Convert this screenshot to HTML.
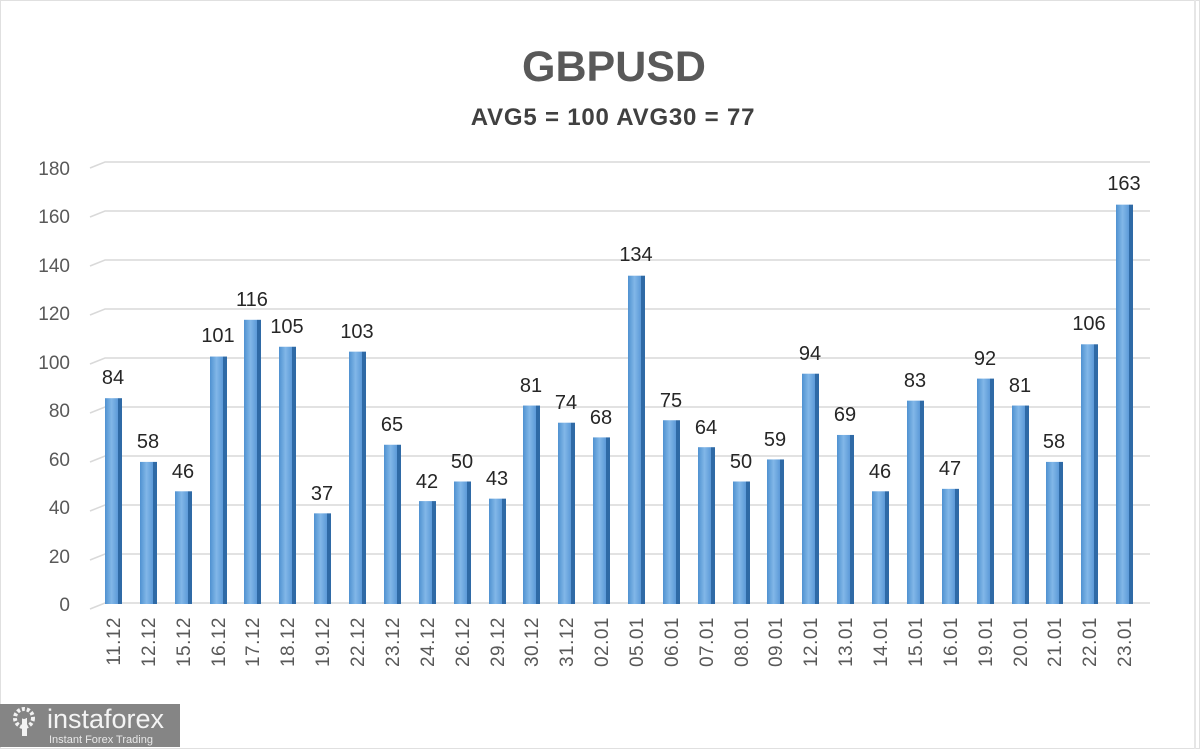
<!DOCTYPE html>
<html><head><meta charset="utf-8"><style>
html,body{margin:0;padding:0;background:#fff}
svg{display:block;font-family:"Liberation Sans",sans-serif}
</style></head><body>
<svg width="1200" height="749" viewBox="0 0 1200 749" xmlns="http://www.w3.org/2000/svg">
<defs>
<linearGradient id="bf" x1="0" x2="1" y1="0" y2="0"><stop offset="0" stop-color="#4f91d0"/><stop offset="0.5" stop-color="#82b7e8"/><stop offset="1" stop-color="#5c9ad8"/></linearGradient>
</defs>
<rect x="0.5" y="0.5" width="1199" height="748" fill="#fff" stroke="#e0e0e0"/>
<rect x="1194" y="0" width="2" height="749" fill="#e6e6e6"/>
<text x="614" y="81" font-size="43" font-weight="bold" fill="#595959" text-anchor="middle">GBPUSD</text>
<text x="613" y="125" font-size="24" font-weight="bold" fill="#404040" text-anchor="middle" letter-spacing="0.8">AVG5 = 100 AVG30 = 77</text>
<g stroke="#d9d9d9" stroke-width="1.5" fill="none">
<path d="M90 609 L105 603 H1150"/>
<path d="M90 560 L105 554 H1150"/>
<path d="M90 511 L105 505 H1150"/>
<path d="M90 462 L105 456 H1150"/>
<path d="M90 413 L105 407 H1150"/>
<path d="M90 364 L105 358 H1150"/>
<path d="M90 315 L105 309 H1150"/>
<path d="M90 266 L105 260 H1150"/>
<path d="M90 217 L105 211 H1150"/>
<path d="M90 168 L105 162 H1150"/>
</g>
<g font-size="19" fill="#595959" text-anchor="end">
<text x="70" y="611">0</text><text x="70" y="563">20</text><text x="70" y="514">40</text><text x="70" y="466">60</text><text x="70" y="417">80</text><text x="70" y="369">100</text><text x="70" y="320">120</text><text x="70" y="272">140</text><text x="70" y="223">160</text><text x="70" y="175">180</text>
</g>
<g id="bars">
<g transform="translate(113,604) scale(1,-2.45)"><rect x="-8" y="0" width="13" height="84" fill="url(#bf)"/><rect x="5" y="0" width="4" height="84" fill="#2f6aa6"/></g>
<g transform="translate(148,604) scale(1,-2.45)"><rect x="-8" y="0" width="13" height="58" fill="url(#bf)"/><rect x="5" y="0" width="4" height="58" fill="#2f6aa6"/></g>
<g transform="translate(183,604) scale(1,-2.45)"><rect x="-8" y="0" width="13" height="46" fill="url(#bf)"/><rect x="5" y="0" width="4" height="46" fill="#2f6aa6"/></g>
<g transform="translate(218,604) scale(1,-2.45)"><rect x="-8" y="0" width="13" height="101" fill="url(#bf)"/><rect x="5" y="0" width="4" height="101" fill="#2f6aa6"/></g>
<g transform="translate(252,604) scale(1,-2.45)"><rect x="-8" y="0" width="13" height="116" fill="url(#bf)"/><rect x="5" y="0" width="4" height="116" fill="#2f6aa6"/></g>
<g transform="translate(287,604) scale(1,-2.45)"><rect x="-8" y="0" width="13" height="105" fill="url(#bf)"/><rect x="5" y="0" width="4" height="105" fill="#2f6aa6"/></g>
<g transform="translate(322,604) scale(1,-2.45)"><rect x="-8" y="0" width="13" height="37" fill="url(#bf)"/><rect x="5" y="0" width="4" height="37" fill="#2f6aa6"/></g>
<g transform="translate(357,604) scale(1,-2.45)"><rect x="-8" y="0" width="13" height="103" fill="url(#bf)"/><rect x="5" y="0" width="4" height="103" fill="#2f6aa6"/></g>
<g transform="translate(392,604) scale(1,-2.45)"><rect x="-8" y="0" width="13" height="65" fill="url(#bf)"/><rect x="5" y="0" width="4" height="65" fill="#2f6aa6"/></g>
<g transform="translate(427,604) scale(1,-2.45)"><rect x="-8" y="0" width="13" height="42" fill="url(#bf)"/><rect x="5" y="0" width="4" height="42" fill="#2f6aa6"/></g>
<g transform="translate(462,604) scale(1,-2.45)"><rect x="-8" y="0" width="13" height="50" fill="url(#bf)"/><rect x="5" y="0" width="4" height="50" fill="#2f6aa6"/></g>
<g transform="translate(497,604) scale(1,-2.45)"><rect x="-8" y="0" width="13" height="43" fill="url(#bf)"/><rect x="5" y="0" width="4" height="43" fill="#2f6aa6"/></g>
<g transform="translate(531,604) scale(1,-2.45)"><rect x="-8" y="0" width="13" height="81" fill="url(#bf)"/><rect x="5" y="0" width="4" height="81" fill="#2f6aa6"/></g>
<g transform="translate(566,604) scale(1,-2.45)"><rect x="-8" y="0" width="13" height="74" fill="url(#bf)"/><rect x="5" y="0" width="4" height="74" fill="#2f6aa6"/></g>
<g transform="translate(601,604) scale(1,-2.45)"><rect x="-8" y="0" width="13" height="68" fill="url(#bf)"/><rect x="5" y="0" width="4" height="68" fill="#2f6aa6"/></g>
<g transform="translate(636,604) scale(1,-2.45)"><rect x="-8" y="0" width="13" height="134" fill="url(#bf)"/><rect x="5" y="0" width="4" height="134" fill="#2f6aa6"/></g>
<g transform="translate(671,604) scale(1,-2.45)"><rect x="-8" y="0" width="13" height="75" fill="url(#bf)"/><rect x="5" y="0" width="4" height="75" fill="#2f6aa6"/></g>
<g transform="translate(706,604) scale(1,-2.45)"><rect x="-8" y="0" width="13" height="64" fill="url(#bf)"/><rect x="5" y="0" width="4" height="64" fill="#2f6aa6"/></g>
<g transform="translate(741,604) scale(1,-2.45)"><rect x="-8" y="0" width="13" height="50" fill="url(#bf)"/><rect x="5" y="0" width="4" height="50" fill="#2f6aa6"/></g>
<g transform="translate(775,604) scale(1,-2.45)"><rect x="-8" y="0" width="13" height="59" fill="url(#bf)"/><rect x="5" y="0" width="4" height="59" fill="#2f6aa6"/></g>
<g transform="translate(810,604) scale(1,-2.45)"><rect x="-8" y="0" width="13" height="94" fill="url(#bf)"/><rect x="5" y="0" width="4" height="94" fill="#2f6aa6"/></g>
<g transform="translate(845,604) scale(1,-2.45)"><rect x="-8" y="0" width="13" height="69" fill="url(#bf)"/><rect x="5" y="0" width="4" height="69" fill="#2f6aa6"/></g>
<g transform="translate(880,604) scale(1,-2.45)"><rect x="-8" y="0" width="13" height="46" fill="url(#bf)"/><rect x="5" y="0" width="4" height="46" fill="#2f6aa6"/></g>
<g transform="translate(915,604) scale(1,-2.45)"><rect x="-8" y="0" width="13" height="83" fill="url(#bf)"/><rect x="5" y="0" width="4" height="83" fill="#2f6aa6"/></g>
<g transform="translate(950,604) scale(1,-2.45)"><rect x="-8" y="0" width="13" height="47" fill="url(#bf)"/><rect x="5" y="0" width="4" height="47" fill="#2f6aa6"/></g>
<g transform="translate(985,604) scale(1,-2.45)"><rect x="-8" y="0" width="13" height="92" fill="url(#bf)"/><rect x="5" y="0" width="4" height="92" fill="#2f6aa6"/></g>
<g transform="translate(1020,604) scale(1,-2.45)"><rect x="-8" y="0" width="13" height="81" fill="url(#bf)"/><rect x="5" y="0" width="4" height="81" fill="#2f6aa6"/></g>
<g transform="translate(1054,604) scale(1,-2.45)"><rect x="-8" y="0" width="13" height="58" fill="url(#bf)"/><rect x="5" y="0" width="4" height="58" fill="#2f6aa6"/></g>
<g transform="translate(1089,604) scale(1,-2.45)"><rect x="-8" y="0" width="13" height="106" fill="url(#bf)"/><rect x="5" y="0" width="4" height="106" fill="#2f6aa6"/></g>
<g transform="translate(1124,604) scale(1,-2.45)"><rect x="-8" y="0" width="13" height="163" fill="url(#bf)"/><rect x="5" y="0" width="4" height="163" fill="#2f6aa6"/></g>
</g>
<g font-size="20" fill="#262626" text-anchor="middle">
<text x="113" y="384">84</text><text x="148" y="448">58</text><text x="183" y="478">46</text><text x="218" y="342">101</text><text x="252" y="306">116</text><text x="287" y="333">105</text><text x="322" y="500">37</text><text x="357" y="338">103</text><text x="392" y="431">65</text><text x="427" y="488">42</text><text x="462" y="468">50</text><text x="497" y="485">43</text><text x="531" y="392">81</text><text x="566" y="409">74</text><text x="601" y="424">68</text><text x="636" y="261">134</text><text x="671" y="407">75</text><text x="706" y="434">64</text><text x="741" y="468">50</text><text x="775" y="446">59</text><text x="810" y="360">94</text><text x="845" y="421">69</text><text x="880" y="478">46</text><text x="915" y="387">83</text><text x="950" y="475">47</text><text x="985" y="365">92</text><text x="1020" y="392">81</text><text x="1054" y="448">58</text><text x="1089" y="330">106</text><text x="1124" y="190">163</text>
</g>
<g font-size="19" fill="#595959" text-anchor="end" letter-spacing="0.5">
<text transform="translate(120,617) rotate(-90)">11.12</text>
<text transform="translate(155,617) rotate(-90)">12.12</text>
<text transform="translate(190,617) rotate(-90)">15.12</text>
<text transform="translate(225,617) rotate(-90)">16.12</text>
<text transform="translate(259,617) rotate(-90)">17.12</text>
<text transform="translate(294,617) rotate(-90)">18.12</text>
<text transform="translate(329,617) rotate(-90)">19.12</text>
<text transform="translate(364,617) rotate(-90)">22.12</text>
<text transform="translate(399,617) rotate(-90)">23.12</text>
<text transform="translate(434,617) rotate(-90)">24.12</text>
<text transform="translate(469,617) rotate(-90)">26.12</text>
<text transform="translate(504,617) rotate(-90)">29.12</text>
<text transform="translate(538,617) rotate(-90)">30.12</text>
<text transform="translate(573,617) rotate(-90)">31.12</text>
<text transform="translate(608,617) rotate(-90)">02.01</text>
<text transform="translate(643,617) rotate(-90)">05.01</text>
<text transform="translate(678,617) rotate(-90)">06.01</text>
<text transform="translate(713,617) rotate(-90)">07.01</text>
<text transform="translate(748,617) rotate(-90)">08.01</text>
<text transform="translate(782,617) rotate(-90)">09.01</text>
<text transform="translate(817,617) rotate(-90)">12.01</text>
<text transform="translate(852,617) rotate(-90)">13.01</text>
<text transform="translate(887,617) rotate(-90)">14.01</text>
<text transform="translate(922,617) rotate(-90)">15.01</text>
<text transform="translate(957,617) rotate(-90)">16.01</text>
<text transform="translate(992,617) rotate(-90)">19.01</text>
<text transform="translate(1027,617) rotate(-90)">20.01</text>
<text transform="translate(1061,617) rotate(-90)">21.01</text>
<text transform="translate(1096,617) rotate(-90)">22.01</text>
<text transform="translate(1131,617) rotate(-90)">23.01</text>
</g>
<rect x="0" y="704" width="180" height="43" fill="#858585"/>
<g fill="#f2f2f2">
<circle cx="24" cy="718" r="9" fill="none" stroke="#f2f2f2" stroke-width="4" stroke-dasharray="3 2"/>
<rect x="22" y="718" width="5" height="18"/>
<circle cx="24" cy="716" r="3" fill="#858585"/>
</g>
<text x="47" y="728" font-size="27" fill="#f4f4f4">instaforex</text>
<text x="49" y="743" font-size="11" fill="#e8e8e8">Instant Forex Trading</text>
</svg>
</body></html>
